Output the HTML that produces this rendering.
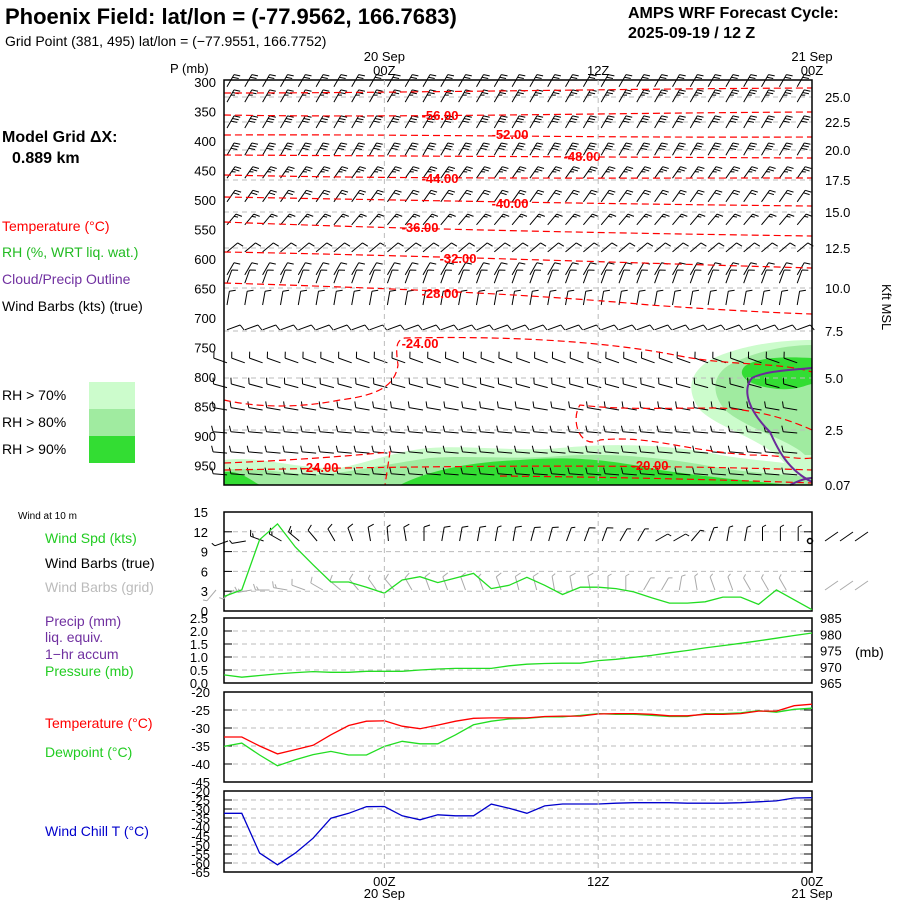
<!DOCTYPE html>
<html><head><meta charset="utf-8">
<style>
html,body{margin:0;padding:0;background:#fff;}
svg{display:block;font-family:"Liberation Sans",sans-serif;}
.t{font-size:14px;}
.ax{font-size:13px;}
</style></head>
<body>
<svg id="chart" width="900" height="900" viewBox="0 0 900 900" xmlns="http://www.w3.org/2000/svg">
<rect width="900" height="900" fill="#fff"/>
<text x="5" y="24" font-size="22" font-weight="bold">Phoenix Field:  lat/lon = (-77.9562, 166.7683)</text>
<text x="5" y="46" class="t">Grid Point (381, 495) lat/lon = (−77.9551, 166.7752)</text>
<text x="628" y="18" font-size="16" font-weight="bold">AMPS WRF Forecast Cycle:</text>
<text x="628" y="38" font-size="16" font-weight="bold">2025-09-19 / 12  Z</text>
<text x="170" y="73" class="ax">P (mb)</text>
<text x="2" y="142" font-size="16" font-weight="bold">Model Grid ΔX:</text>
<text x="12" y="163" font-size="16" font-weight="bold">0.889 km</text>
<text x="2" y="231" class="t" fill="#ff0000">Temperature (°C)</text>
<text x="2" y="257" class="t" fill="#22bb22">RH (%, WRT liq. wat.)</text>
<text x="2" y="284" class="t" fill="#7030a0">Cloud/Precip Outline</text>
<text x="2" y="311" class="t">Wind Barbs (kts) (true)</text>
<rect x="89" y="382" width="46" height="27" fill="#ccfccc"/>
<rect x="89" y="409" width="46" height="27" fill="#a0eba0"/>
<rect x="89" y="436" width="46" height="27" fill="#33dd33"/>
<text x="2" y="400" class="t">RH &gt; 70%</text>
<text x="2" y="427" class="t">RH &gt; 80%</text>
<text x="2" y="454" class="t">RH &gt; 90%</text>
<text x="18" y="519" font-size="10">Wind at 10 m</text>
<text x="45" y="543" class="t" fill="#22cc22">Wind Spd (kts)</text>
<text x="45" y="568" class="t">Wind Barbs (true)</text>
<text x="45" y="592" class="t" fill="#bbbbbb">Wind Barbs (grid)</text>
<text x="45" y="626" class="t" fill="#7030a0">Precip (mm)</text>
<text x="45" y="642" class="t" fill="#7030a0">liq. equiv.</text>
<text x="45" y="659" class="t" fill="#7030a0">1−hr accum</text>
<text x="45" y="676" class="t" fill="#22cc22">Pressure (mb)</text>
<text x="855" y="657" class="t">(mb)</text>
<text x="45" y="728" class="t" fill="#ff0000">Temperature (°C)</text>
<text x="45" y="757" class="t" fill="#22cc22">Dewpoint (°C)</text>
<text x="45" y="836" class="t" fill="#0000cc">Wind Chill T (°C)</text>
<text x="0" y="0" class="ax" transform="translate(882,284) rotate(90)">Kft MSL</text>
<g id="main"></g>
<g id="lower"></g>
</svg>
<script>
const hours = [0,1,2,3,4,5,6,7,8,9,10,11,12,13,14,15,16,17,18,19,20,21,22,23,24,25,26,27,28,29,30,31,32,33];
const windSpd = [2.2,3.2,10.8,13.2,9.7,7.0,4.4,4.4,3.6,2.7,4.7,5.2,4.3,5.0,5.7,3.4,3.9,5.1,3.9,2.5,3.6,3.6,3.4,2.9,2.0,1.2,1.2,1.4,2.1,2.1,1.0,3.2,1.7,0.2];
const pressure = [967.5,966.8,967.3,967.8,968.2,968.5,968.3,968.3,968.6,968.6,968.6,969.0,969.3,969.5,969.5,969.5,970.3,970.8,971.0,971.1,971.1,971.9,972.3,972.9,973.5,974.3,975.0,975.8,976.5,977.2,978.0,978.8,979.6,980.4];
const tempC = [-32.5,-32.5,-35,-37.2,-36,-34.8,-31.9,-29.3,-28.1,-28.0,-29.5,-30.2,-29.2,-28.1,-27.3,-27.2,-27.2,-27.2,-26.8,-26.7,-26.7,-26.1,-26.0,-26.0,-26.2,-26.6,-26.6,-26.2,-26.2,-26.0,-25.3,-25.3,-23.8,-23.4];
const dewC = [-35.1,-34.2,-37.5,-40.5,-38.8,-37.4,-36.5,-37.5,-37.5,-35.1,-33.7,-34.4,-34.4,-31.9,-29.1,-28.1,-27.5,-27.3,-26.9,-26.9,-26.5,-26.0,-26.2,-26.2,-26.5,-26.8,-26.8,-26.0,-26.0,-25.8,-25.2,-25.6,-24.8,-24.5];
const chillC = [-32.4,-32.4,-54.5,-61,-54.5,-46.2,-35.1,-32.4,-28.7,-28.6,-33.8,-36,-33.2,-33.8,-33.8,-27.3,-29.6,-32.4,-28.3,-27.2,-27.2,-27.2,-26.8,-26.5,-26.5,-26.5,-26.8,-26.8,-26.8,-26.5,-26.0,-25.5,-23.9,-23.7];
const windDir10 = [200,190,160,150,140,130,120,110,100,95,100,90,80,80,80,80,80,75,75,70,70,70,60,60,30,30,50,70,80,80,90,90,90,90];
const pLevels = [300,350,400,450,500,550,600,650,700,750,800,850,900,950];
const pTicksLabels = ["300","350","400","450","500","550","600","650","700","750","800","850","900","950"];
const kftVals = [25.0,22.5,20.0,17.5,15.0,12.5,10.0,7.5,5.0,2.5,0.07];
const kftLabels = ["25.0","22.5","20.0","17.5","15.0","12.5","10.0","7.5","5.0","2.5","0.07"];
const kftY = [97,122,150,180,212,248,288,331,378,430,485];
const barbRowP = [308,334,378,424,463,503,542,588,627,641,678,720,776,818,856,895,929,966];
const barbRowAng = [60,60,60,60,55,55,50,40,60,70,80,20,160,165,170,175,175,175];
const barbRowSpd = [20,25,30,30,25,20,15,10,10,10,10,10,10,10,10,10,10,10];

const NS='http://www.w3.org/2000/svg';
const svg=document.getElementById('chart');
const gMain=document.getElementById('main');
const gLow=document.getElementById('lower');
const X0=224,X1=812;
function xh(h){return X0+h*(X1-X0)/33;}
function yP(p){return 82+(p-300)*0.59;}
function mk(tag,attrs,parent){const e=document.createElementNS(NS,tag);for(const k in attrs)e.setAttribute(k,attrs[k]);(parent||svg).appendChild(e);return e;}
function txt(x,y,s,anchor,parent,cls,fill){const e=mk('text',{x:x,y:y,'text-anchor':anchor||'start','class':cls||'ax',fill:fill||'#000'},parent);e.textContent=s;return e;}

const MT=80,MB=485;
const sh=[
 ['#ccfccc','M224,460 C260,455 300,470 340,468 C370,462 400,450 430,448 C470,445 520,452 560,448 C620,442 680,446 720,455 C760,462 800,462 812,470 L812,485 L224,485Z'],
 ['#ccfccc','M812,340 C780,340 740,345 710,360 C690,372 685,390 700,410 C720,430 770,440 790,470 L812,470Z'],
 ['#a0eba0','M224,470 C260,465 300,478 330,474 C360,470 400,462 430,458 C470,455 520,460 560,456 C620,452 680,460 720,468 C760,474 800,475 812,478 L812,485 L224,485Z'],
 ['#a0eba0','M812,345 C790,345 760,350 735,362 C712,372 710,392 725,410 C745,428 790,440 805,455 L812,455Z'],
 ['#33dd33','M400,485 C430,470 470,462 520,460 C580,455 620,462 660,470 C700,476 740,480 790,485Z'],
 ['#33dd33','M812,358 C790,357 760,356 745,366 C735,376 750,385 770,388 C795,392 805,385 812,384Z'],
 ['#33dd33','M224,472 C240,470 250,480 260,485 L224,485Z']
];
sh.forEach((s,i)=>{const p=mk('path',{d:s[1],fill:s[0]},gMain);

});
kftY.slice(0,10).forEach((y,i)=>{const l=mk('line',{x1:X0,x2:X1,y1:y,y2:y,stroke:'#bbb','stroke-dasharray':'5,4'},gMain);

});
[9,21].forEach(h=>{[[MT,MB],[512,611],[618,683],[692,782],[791,872]].forEach(r=>{const l=mk('line',{x1:xh(h),x2:xh(h),y1:r[0],y2:r[1],stroke:'#bbb','stroke-dasharray':'5,4'});

});});
function barb(x,y,angDeg,spd,color,parent,len){
 len=len||14;const a=angDeg*Math.PI/180;const dx=Math.cos(a),dy=-Math.sin(a);
 const ex=x+dx*len,ey=y+dy*len;let d='M'+x.toFixed(1)+','+y.toFixed(1)+'L'+ex.toFixed(1)+','+ey.toFixed(1);
 const px=-dy,py=dx;let n=Math.round(spd/5);let pos=0;
 while(n>0){const bl=n>=2?6:3.5;const bx=ex-dx*pos*3,by=ey-dy*pos*3;
  d+='M'+bx.toFixed(1)+','+by.toFixed(1)+'L'+(bx+px*bl+dx*2).toFixed(1)+','+(by+py*bl+dy*2).toFixed(1);
  n-=2;pos++;}
 const p=mk('path',{d:d,stroke:color,fill:'none','stroke-width':1},parent);return p;}
barbRowP.forEach((p,r)=>{hours.forEach(h=>{if(h===33)return;
 const b=barb(xh(h)+3,yP(p),barbRowAng[r],barbRowSpd[r],'#000',gMain);
 
 });});
const cont=[
 ['M224,93 C400,93 600,89 812,88',null],
 ['M224,115 C400,118 600,113 812,112','-56.00',440,120],
 ['M224,135 C400,134 600,138 812,137','-52.00',510,139],
 ['M224,155 C400,156 600,157 812,158','-48.00',582,161],
 ['M224,175 C400,179 600,178 812,178','-44.00',440,183],
 ['M224,197 C400,200 600,204 812,206','-40.00',510,208],
 ['M224,222 C400,229 600,233 812,236','-36.00',420,232],
 ['M224,252 C400,255 600,262 812,268','-32.00',458,263],
 ['M224,283 C385,288 530,294 650,305 C720,310 780,313 812,314','-28.00',440,298],
 ['M224,400 C260,408 300,408 340,400 C380,395 395,385 398,365 C396,350 395,340 405,338 C500,336 600,340 680,356 C730,366 780,362 812,372','-24.00',420,348],
 ['M812,430 C790,420 760,410 720,408 C660,408 620,410 580,405 C570,420 580,450 600,440 C650,435 680,450 750,455 C780,455 800,460 812,458',null],
 ['M224,463 C300,460 360,455 390,452 L385,485',null],
 ['M224,470 C400,467 600,463 812,470','-24.00',320,472],
 ['M500,476 C600,477 700,479 812,483','-20.00',650,470]
];
cont.forEach(c=>{const p=mk('path',{d:c[0],stroke:'#ff0000',fill:'none','stroke-dasharray':'7,4','stroke-width':1.2},gMain);
 
 
 if(c[1]){const t=txt(c[2],c[3],c[1],'middle',gMain,null,'#ff0000');t.setAttribute('font-weight','bold');t.setAttribute('font-size','14');
 
 }});
const pu=mk('path',{d:'M812,368 C790,370 765,371 752,378 C742,390 748,410 770,432 C778,450 788,470 812,482 M790,485 C800,480 808,478 812,478',stroke:'#6a2a9a',fill:'none','stroke-width':2},gMain);


mk('rect',{x:X0,y:MT,width:X1-X0,height:MB-MT,fill:'none',stroke:'#000','stroke-width':1.5},gMain);
pLevels.forEach((p,i)=>{const t=txt(216,yP(p)+5,pTicksLabels[i],'end',gMain);t.setAttribute('font-size','15');
 
 });
kftVals.forEach((v,i)=>{const t=txt(825,kftY[i]+5,kftLabels[i],'start',gMain);
 
 });
[[9,'20 Sep','00Z'],[21,null,'12Z'],[33,'21 Sep','00Z']].forEach(a=>{
 const x=xh(a[0]);
 if(a[1]){const t=txt(x,61,a[1],'middle');}
 const t2=txt(x,75,a[2],'middle');
 const t3=txt(x,886,a[2],'middle');
 if(a[1]){const t4=txt(x,898,a[1],'middle');}
});

function panel(name,top,bot,vmin,vmax,ticks,labels,lx,fs){
 const ys=v=>bot-(v-vmin)/(vmax-vmin)*(bot-top);
 ticks.forEach((v,i)=>{const y=ys(v);
  if(v!==vmin&&v!==vmax){const l=mk('line',{x1:X0,x2:X1,y1:y,y2:y,stroke:'#bbb','stroke-dasharray':'5,4'},gLow);
   
   }
  mk('line',{x1:X0,x2:X0+8,y1:y,y2:y,stroke:'#000'},gLow);mk('line',{x1:X1-8,x2:X1,y1:y,y2:y,stroke:'#000'},gLow);
  const t=txt(lx,y+5,labels[i],'end',gLow);t.setAttribute('font-size',fs||13);
  
  });
 const r=mk('rect',{x:X0,y:top,width:X1-X0,height:bot-top,fill:'none',stroke:'#000','stroke-width':1.5},gLow);
 
 
 return ys;}
function line(ys,vals,color,name){const d=vals.map((v,i)=>(i?'L':'M')+xh(hours[i]).toFixed(1)+','+ys(v).toFixed(1)).join('');
 const p=mk('path',{d:d,stroke:color,fill:'none','stroke-width':1.3},gLow);
 
 }
const ysW=panel('wind-speed',512,611,0,15,[0,3,6,9,12,15],['0','3','6','9','12','15'],208);
hours.forEach(h=>{if(h===33)return;
 const b=barb(xh(h)+4,541,windDir10[h],windSpd[h]+4,'#000',gLow,14);
 
 
 const g=barb(xh(h)-8,590,windDir10[h]+30,windSpd[h]+4,'#aaa',gLow,14);
 
 });
[830,845,860].forEach(x=>{mk('line',{x1:x-5,y1:541,x2:x+8,y2:532,stroke:'#000'},gLow);mk('line',{x1:x-5,y1:590,x2:x+8,y2:581,stroke:'#aaa'},gLow);});
mk('circle',{cx:810,cy:541,r:2.5,fill:'none',stroke:'#000','stroke-width':1.5},gLow);
line(ysW,windSpd,'#22dd22','wind-speed-line');
const ysPr=panel('precip',618,683,0,2.5,[0,0.5,1,1.5,2,2.5],['0.0','0.5','1.0','1.5','2.0','2.5'],208);
const ysPm=v=>683-(v-965)/20*65;
['965','970','975','980','985'].forEach((s,i)=>{const t=txt(820,683-i*16.25+5,s,'start',gLow);
 
 });
line(ysPm,pressure,'#22dd22','pressure-line');
const ysT=panel('temperature',692,782,-45,-20,[-45,-40,-35,-30,-25,-20],['-45','-40','-35','-30','-25','-20'],210);
line(ysT,dewC,'#22dd22','dewpoint-line');
line(ysT,tempC,'#ff0000','temperature-line');
const ysC=panel('wind-chill',791,872,-65,-20,[-65,-60,-55,-50,-45,-40,-35,-30,-25,-20],['-65','-60','-55','-50','-45','-40','-35','-30','-25','-20'],210,11);
line(ysC,chillC,'#0000cc','wind-chill-line');
</script>
</body></html>
